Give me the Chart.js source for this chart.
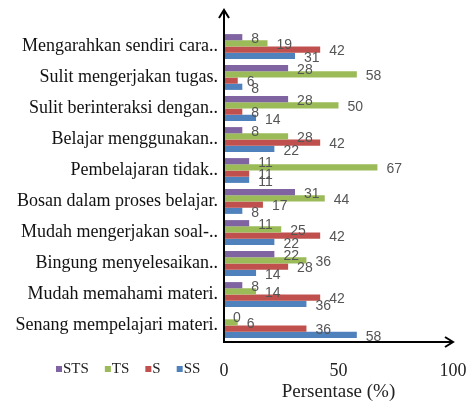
<!DOCTYPE html>
<html>
<head>
<meta charset="utf-8">
<script src="https://cdn.jsdelivr.net/npm/chart.js@4"></script>
<style>
  html, body { margin: 0; padding: 0; background: #fff; }
  #wrap { width: 474px; height: 407px; }
</style>
</head>
<body>
<div id="wrap"><canvas id="chart" width="474" height="407"></canvas></div>
<script>
// === DATA ===
const categories = [
  'Mengarahkan sendiri cara..',
  'Sulit mengerjakan tugas.',
  'Sulit berinteraksi dengan..',
  'Belajar menggunakan..',
  'Pembelajaran tidak..',
  'Bosan dalam proses belajar.',
  'Mudah mengerjakan soal-..',
  'Bingung menyelesaikan..',
  'Mudah memahami materi.',
  'Senang mempelajari materi.'
];
const sts = [8, 28, 28, 8, 11, 31, 11, 22, 8, 0];
const ts  = [19, 58, 50, 28, 67, 44, 25, 36, 14, 6];
const s   = [42, 6, 8, 42, 11, 17, 42, 28, 42, 36];
const ss  = [31, 8, 14, 22, 11, 8, 22, 14, 36, 58];
const xTicks = [0, 50, 100];

const SERIF = '"Liberation Serif", "Times New Roman", serif';

// === PLUGINS ===
// value labels just past the end of each bar
const barLabels = {
  id: 'barLabels',
  afterDatasetsDraw(chart) {
    const ctx = chart.ctx;
    ctx.save();
    ctx.font = '14px "Liberation Sans", Arial, sans-serif';
    ctx.fillStyle = '#555';
    ctx.textAlign = 'left';
    ctx.textBaseline = 'middle';
    chart.data.datasets.forEach((ds, i) => {
      chart.getDatasetMeta(i).data.forEach((bar, j) => {
        ctx.fillText(String(ds.data[j]), bar.x + 9, bar.y + 2);
      });
    });
    ctx.restore();
  }
};

// axis lines with arrow heads
const axisArrows = {
  id: 'axisArrows',
  afterDraw(chart) {
    const ctx = chart.ctx;
    const x0 = chart.scales.x.getPixelForValue(0);
    const xEnd = chart.scales.x.getPixelForValue(100);
    const yBot = chart.chartArea.bottom + 1;
    const yTop = 10;
    ctx.save();
    ctx.strokeStyle = '#000';
    ctx.lineWidth = 2;
    ctx.beginPath();
    ctx.moveTo(x0, yBot);
    ctx.lineTo(x0, yTop);
    ctx.moveTo(x0 - 5, yTop + 8);
    ctx.lineTo(x0, yTop);
    ctx.lineTo(x0 + 5, yTop + 8);
    ctx.moveTo(x0 - 1, yBot);
    ctx.lineTo(xEnd, yBot);
    ctx.moveTo(xEnd - 8, yBot - 5);
    ctx.lineTo(xEnd, yBot);
    ctx.lineTo(xEnd - 8, yBot + 5);
    ctx.stroke();
    ctx.restore();
  }
};

// legend on the tick-label line, left of the axis
const sideLegend = {
  id: 'sideLegend',
  afterDraw(chart) {
    const ctx = chart.ctx;
    ctx.save();
    ctx.font = '15px ' + SERIF;
    ctx.textBaseline = 'middle';
    ctx.textAlign = 'left';
    const y = 369;
    let x = 56;
    chart.data.datasets.forEach(ds => {
      ctx.fillStyle = ds.backgroundColor;
      ctx.fillRect(x, y - 3, 6, 6);
      ctx.fillStyle = '#222';
      ctx.fillText(ds.label, x + 7, y);
      x += 7 + ctx.measureText(ds.label).width + 16;
    });
    ctx.restore();
  }
};

// === CHART ===
const ctx = document.getElementById('chart').getContext('2d');
new Chart(ctx, {
  type: 'bar',
  data: {
    labels: categories,
    datasets: [
      { label: 'STS', data: sts, backgroundColor: '#8064A2' },
      { label: 'TS',  data: ts,  backgroundColor: '#9BBB59' },
      { label: 'S',   data: s,   backgroundColor: '#C0504D' },
      { label: 'SS',  data: ss,  backgroundColor: '#4F81BD' }
    ]
  },
  options: {
    indexAxis: 'y',
    responsive: false,
    animation: false,
    layout: { padding: { top: 31, right: 21, left: 0, bottom: 0 } },
    datasets: { bar: { categoryPercentage: 0.8, barPercentage: 1.0 } },
    plugins: {
      legend: { display: false },
      tooltip: { enabled: false }
    },
    scales: {
      x: {
        min: 0,
        max: 100,
        afterBuildTicks(scale) { scale.ticks = xTicks.map(v => ({ value: v })); },
        afterFit(scale) { scale.height = 66; },
        // invisible tick marks push the labels down without widening the side padding
        grid: { color: 'rgba(0,0,0,0)', drawOnChartArea: false, drawTicks: true, tickLength: 17 },
        border: { display: false },
        ticks: { color: '#222', padding: 2, font: { family: SERIF, size: 18 } },
        title: {
          display: true,
          text: 'Persentase (%)',
          color: '#222',
          font: { family: SERIF, size: 19 },
          padding: { top: 0, bottom: 4 }
        }
      },
      y: {
        afterFit(scale) { scale.width = 224; },
        grid: { display: false, drawTicks: false },
        border: { display: false },
        ticks: { color: '#111', padding: 6, autoSkip: false, font: { family: SERIF, size: 18 } }
      }
    }
  },
  plugins: [barLabels, axisArrows, sideLegend]
});
</script>
</body>
</html>
